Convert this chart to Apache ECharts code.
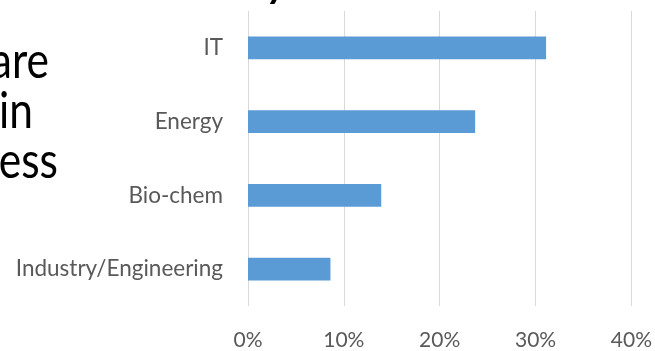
<!DOCTYPE html>
<html>
<head>
<meta charset="utf-8">
<script src="https://cdn.jsdelivr.net/npm/echarts@6/dist/echarts.min.js"></script>
<style>
  html, body { margin: 0; padding: 0; background: #ffffff; }
  #chart { width: 655px; height: 351px; }
</style>
</head>
<body>
<div id="chart"></div>
<script>
// Share of companies by sector (percent)
const categories = ['IT', 'Energy', 'Bio-chem', 'Industry/Engineering'];
const shares = [31.1, 23.7, 13.9, 8.6];
const axisMax = 40;
const axisStep = 10;

// Slide text lines running into the chart area from the left
const sideLines = ['are', 'in', 'ess'];

const chart = echarts.init(document.getElementById('chart'), null, { renderer: 'canvas' });

const font = 'Lato, "Open Sans", sans-serif';
const sideRightEdges = [49, 33, 58];

chart.setOption({
  animation: false,
  backgroundColor: '#ffffff',
  grid: { left: 248, right: 23, top: 11, bottom: 42 },
  xAxis: {
    type: 'value',
    min: 0,
    max: axisMax,
    interval: axisStep,
    axisLine: { show: false },
    axisTick: { show: false },
    splitLine: { show: true, lineStyle: { color: '#d9d9d9', width: 1 } },
    axisLabel: {
      formatter: '{value}%',
      color: '#595959',
      fontFamily: font,
      fontSize: 21,
      margin: 24
    }
  },
  yAxis: {
    type: 'category',
    data: categories,
    inverse: true,
    axisLine: { show: false },
    axisTick: { show: false },
    axisLabel: {
      color: '#595959',
      fontFamily: font,
      fontSize: 22.5,
      margin: 25
    }
  },
  series: [{
    type: 'bar',
    data: shares,
    barWidth: '31%',
    itemStyle: { color: '#5b9bd5' }
  }],
  graphic: [
    {
      // tail of the slide title above the chart
      type: 'text',
      x: 268,
      y: -36,
      style: {
        text: 'y',
        font: 'italic bold 40px ' + font,
        fill: '#000000'
      },
      silent: true
    }
  ].concat(sideLines.map(function (line, i) {
    return {
      type: 'text',
      x: sideRightEdges[i],
      y: 87 + i * 50,
      scaleX: 0.85,
      style: {
        text: line,
        textAlign: 'right',
        textVerticalAlign: 'bottom',
        font: '50px ' + font,
        fill: '#000000'
      },
      silent: true
    };
  }))
});
</script>
</body>
</html>
